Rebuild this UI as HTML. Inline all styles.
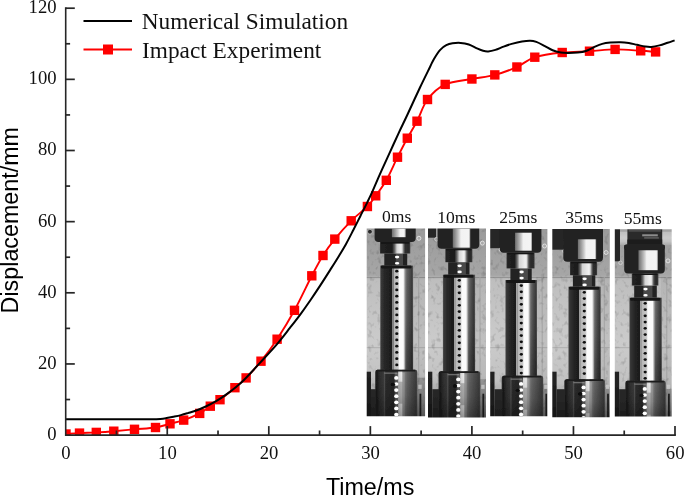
<!DOCTYPE html>
<html><head><meta charset="utf-8"><title>Displacement vs Time</title>
<style>html,body{margin:0;padding:0;background:#fff;}body{width:685px;height:496px;overflow:hidden;}svg{display:block;}text{font-family:"Liberation Serif",serif;fill:#111;}.sans{font-family:"Liberation Sans",sans-serif;fill:#000;}</style>
</head><body>
<svg width="685" height="496" viewBox="0 0 685 496">
<rect width="685" height="496" fill="#fff"/>
<defs>
<filter id="soft" x="-5%" y="-5%" width="110%" height="110%"><feGaussianBlur stdDeviation="0.65"/></filter>
<filter id="soft3" x="-5%" y="-5%" width="110%" height="110%"><feGaussianBlur stdDeviation="0.4"/></filter>
<linearGradient id="wall" x1="0" y1="0" x2="0" y2="1"><stop offset="0" stop-color="#9a9a9a"/><stop offset="0.255" stop-color="#a6a6a6"/><stop offset="0.28" stop-color="#bebebe"/><stop offset="0.6" stop-color="#cbcbcb"/><stop offset="0.8" stop-color="#c2c2c2"/><stop offset="1" stop-color="#a8a8a8"/></linearGradient>
<filter id="noise" x="0" y="0" width="100%" height="100%"><feTurbulence type="fractalNoise" baseFrequency="0.22 0.18" numOctaves="2" seed="7" result="t"/><feColorMatrix in="t" type="matrix" values="0 0 0 0 0  0 0 0 0 0  0 0 0 0 0  2.0 0 0 0 -1.08"/></filter>
<linearGradient id="rdark" x1="0" y1="0" x2="0" y2="1"><stop offset="0" stop-color="#000" stop-opacity="0"/><stop offset="0.5" stop-color="#000" stop-opacity="0.12"/><stop offset="1" stop-color="#000" stop-opacity="0.38"/></linearGradient>
<linearGradient id="bdark" x1="0" y1="0" x2="0" y2="1"><stop offset="0" stop-color="#000" stop-opacity="0"/><stop offset="0.45" stop-color="#000" stop-opacity="0.12"/><stop offset="1" stop-color="#000" stop-opacity="0.42"/></linearGradient>
<clipPath id="cp0"><rect x="366.7" y="228.5" width="58.4" height="187.8"/></clipPath>
<clipPath id="cp1"><rect x="428.0" y="228.6" width="58.0" height="188.9"/></clipPath>
<clipPath id="cp2"><rect x="490.2" y="228.9" width="57.2" height="187.3"/></clipPath>
<clipPath id="cp3"><rect x="552.3" y="228.9" width="57.5" height="188.4"/></clipPath>
<clipPath id="cp4"><rect x="614.8" y="229.2" width="56.9" height="187.2"/></clipPath>
<linearGradient id="m0" gradientUnits="userSpaceOnUse" x1="380.20" y1="0" x2="413.10" y2="0"><stop offset="0.0000" stop-color="#5a5a5a"/><stop offset="0.0304" stop-color="#383838"/><stop offset="0.1368" stop-color="#272727"/><stop offset="0.3283" stop-color="#1d1d1d"/><stop offset="0.3587" stop-color="#1d1d1d"/><stop offset="0.3799" stop-color="#a8a8a8"/><stop offset="0.4043" stop-color="#808080"/><stop offset="0.4255" stop-color="#b6b6b6"/><stop offset="0.5502" stop-color="#cacaca"/><stop offset="0.5836" stop-color="#fbfbfb"/><stop offset="0.7021" stop-color="#fbfbfb"/><stop offset="0.7416" stop-color="#b0b0b0"/><stop offset="0.7812" stop-color="#747474"/><stop offset="0.8237" stop-color="#5e5e5e"/><stop offset="0.9088" stop-color="#4a4a4a"/><stop offset="0.9696" stop-color="#3a3a3a"/><stop offset="1.0000" stop-color="#686868"/></linearGradient>
<linearGradient id="s0" gradientUnits="userSpaceOnUse" x1="380.00" y1="0" x2="410.30" y2="0"><stop offset="0.0000" stop-color="#3e3e3e"/><stop offset="0.0396" stop-color="#222"/><stop offset="0.4026" stop-color="#1c1c1c"/><stop offset="0.4851" stop-color="#6a6a6a"/><stop offset="0.5611" stop-color="#d4d4d4"/><stop offset="0.6832" stop-color="#f0f0f0"/><stop offset="0.7261" stop-color="#e0e0e0"/><stop offset="0.7921" stop-color="#5a5a5a"/><stop offset="0.8383" stop-color="#2e2e2e"/><stop offset="0.9604" stop-color="#2a2a2a"/><stop offset="1.0000" stop-color="#484848"/></linearGradient>
<linearGradient id="c0" gradientUnits="userSpaceOnUse" x1="391.30" y1="0" x2="406.20" y2="0"><stop offset="0.0000" stop-color="#202020"/><stop offset="0.0805" stop-color="#767676"/><stop offset="0.2550" stop-color="#9c9c9c"/><stop offset="0.4564" stop-color="#cccccc"/><stop offset="0.5906" stop-color="#f2f2f2"/><stop offset="0.8658" stop-color="#f4f4f4"/><stop offset="0.9329" stop-color="#b0b0b0"/><stop offset="1.0000" stop-color="#202020"/></linearGradient>
<linearGradient id="b0" gradientUnits="userSpaceOnUse" x1="375.20" y1="0" x2="417.30" y2="0"><stop offset="0.0000" stop-color="#2c2c2c"/><stop offset="0.0356" stop-color="#181818"/><stop offset="0.1069" stop-color="#2e2e2e"/><stop offset="0.1948" stop-color="#383838"/><stop offset="0.2185" stop-color="#505050"/><stop offset="0.2494" stop-color="#2c2c2c"/><stop offset="0.4299" stop-color="#262626"/><stop offset="0.5344" stop-color="#444"/><stop offset="0.5582" stop-color="#d2d2d2"/><stop offset="0.6247" stop-color="#e4e4e4"/><stop offset="0.6580" stop-color="#8c8c8c"/><stop offset="0.7625" stop-color="#626262"/><stop offset="0.8812" stop-color="#4a4a4a"/><stop offset="0.9715" stop-color="#3c3c3c"/><stop offset="1.0000" stop-color="#4c4c4c"/></linearGradient>
<linearGradient id="m1" gradientUnits="userSpaceOnUse" x1="442.90" y1="0" x2="475.10" y2="0"><stop offset="0.0000" stop-color="#5a5a5a"/><stop offset="0.0311" stop-color="#383838"/><stop offset="0.1398" stop-color="#272727"/><stop offset="0.3012" stop-color="#1d1d1d"/><stop offset="0.3323" stop-color="#1d1d1d"/><stop offset="0.3540" stop-color="#a8a8a8"/><stop offset="0.3789" stop-color="#808080"/><stop offset="0.4006" stop-color="#b6b6b6"/><stop offset="0.5559" stop-color="#cacaca"/><stop offset="0.5901" stop-color="#fbfbfb"/><stop offset="0.7205" stop-color="#fbfbfb"/><stop offset="0.7609" stop-color="#b0b0b0"/><stop offset="0.8012" stop-color="#747474"/><stop offset="0.8447" stop-color="#5e5e5e"/><stop offset="0.9068" stop-color="#4a4a4a"/><stop offset="0.9689" stop-color="#3a3a3a"/><stop offset="1.0000" stop-color="#686868"/></linearGradient>
<linearGradient id="s1" gradientUnits="userSpaceOnUse" x1="445.30" y1="0" x2="472.40" y2="0"><stop offset="0.0000" stop-color="#3e3e3e"/><stop offset="0.0443" stop-color="#222"/><stop offset="0.3395" stop-color="#1c1c1c"/><stop offset="0.4317" stop-color="#6a6a6a"/><stop offset="0.5166" stop-color="#d4d4d4"/><stop offset="0.6716" stop-color="#f0f0f0"/><stop offset="0.7196" stop-color="#e0e0e0"/><stop offset="0.7934" stop-color="#5a5a5a"/><stop offset="0.8450" stop-color="#2e2e2e"/><stop offset="0.9557" stop-color="#2a2a2a"/><stop offset="1.0000" stop-color="#484848"/></linearGradient>
<linearGradient id="c1" gradientUnits="userSpaceOnUse" x1="452.20" y1="0" x2="470.80" y2="0"><stop offset="0.0000" stop-color="#202020"/><stop offset="0.0645" stop-color="#767676"/><stop offset="0.2043" stop-color="#9c9c9c"/><stop offset="0.3656" stop-color="#cccccc"/><stop offset="0.4731" stop-color="#f2f2f2"/><stop offset="0.8925" stop-color="#f4f4f4"/><stop offset="0.9462" stop-color="#b0b0b0"/><stop offset="1.0000" stop-color="#202020"/></linearGradient>
<linearGradient id="b1" gradientUnits="userSpaceOnUse" x1="438.50" y1="0" x2="480.20" y2="0"><stop offset="0.0000" stop-color="#2c2c2c"/><stop offset="0.0360" stop-color="#181818"/><stop offset="0.1079" stop-color="#2e2e2e"/><stop offset="0.1966" stop-color="#383838"/><stop offset="0.2206" stop-color="#505050"/><stop offset="0.2518" stop-color="#2c2c2c"/><stop offset="0.4029" stop-color="#262626"/><stop offset="0.5084" stop-color="#444"/><stop offset="0.5324" stop-color="#d2d2d2"/><stop offset="0.5995" stop-color="#e4e4e4"/><stop offset="0.6331" stop-color="#8c8c8c"/><stop offset="0.7386" stop-color="#626262"/><stop offset="0.8801" stop-color="#4a4a4a"/><stop offset="0.9712" stop-color="#3c3c3c"/><stop offset="1.0000" stop-color="#4c4c4c"/></linearGradient>
<linearGradient id="m2" gradientUnits="userSpaceOnUse" x1="505.40" y1="0" x2="537.00" y2="0"><stop offset="0.0000" stop-color="#5a5a5a"/><stop offset="0.0316" stop-color="#383838"/><stop offset="0.1424" stop-color="#272727"/><stop offset="0.2943" stop-color="#1d1d1d"/><stop offset="0.3259" stop-color="#1d1d1d"/><stop offset="0.3481" stop-color="#a8a8a8"/><stop offset="0.3734" stop-color="#808080"/><stop offset="0.3956" stop-color="#b6b6b6"/><stop offset="0.5506" stop-color="#cacaca"/><stop offset="0.5854" stop-color="#fbfbfb"/><stop offset="0.7184" stop-color="#fbfbfb"/><stop offset="0.7595" stop-color="#b0b0b0"/><stop offset="0.8006" stop-color="#747474"/><stop offset="0.8449" stop-color="#5e5e5e"/><stop offset="0.9051" stop-color="#4a4a4a"/><stop offset="0.9684" stop-color="#3a3a3a"/><stop offset="1.0000" stop-color="#686868"/></linearGradient>
<linearGradient id="s2" gradientUnits="userSpaceOnUse" x1="506.50" y1="0" x2="534.60" y2="0"><stop offset="0.0000" stop-color="#3e3e3e"/><stop offset="0.0427" stop-color="#222"/><stop offset="0.2918" stop-color="#1c1c1c"/><stop offset="0.3808" stop-color="#6a6a6a"/><stop offset="0.4626" stop-color="#d4d4d4"/><stop offset="0.6690" stop-color="#f0f0f0"/><stop offset="0.7153" stop-color="#e0e0e0"/><stop offset="0.7865" stop-color="#5a5a5a"/><stop offset="0.8363" stop-color="#2e2e2e"/><stop offset="0.9573" stop-color="#2a2a2a"/><stop offset="1.0000" stop-color="#484848"/></linearGradient>
<linearGradient id="c2" gradientUnits="userSpaceOnUse" x1="514.40" y1="0" x2="532.50" y2="0"><stop offset="0.0000" stop-color="#202020"/><stop offset="0.0663" stop-color="#767676"/><stop offset="0.2099" stop-color="#9c9c9c"/><stop offset="0.3757" stop-color="#cccccc"/><stop offset="0.4862" stop-color="#f2f2f2"/><stop offset="0.8895" stop-color="#f4f4f4"/><stop offset="0.9448" stop-color="#b0b0b0"/><stop offset="1.0000" stop-color="#202020"/></linearGradient>
<linearGradient id="b2" gradientUnits="userSpaceOnUse" x1="501.70" y1="0" x2="543.20" y2="0"><stop offset="0.0000" stop-color="#2c2c2c"/><stop offset="0.0361" stop-color="#181818"/><stop offset="0.1084" stop-color="#2e2e2e"/><stop offset="0.1976" stop-color="#383838"/><stop offset="0.2217" stop-color="#505050"/><stop offset="0.2530" stop-color="#2c2c2c"/><stop offset="0.3952" stop-color="#262626"/><stop offset="0.5012" stop-color="#444"/><stop offset="0.5253" stop-color="#d2d2d2"/><stop offset="0.5928" stop-color="#e4e4e4"/><stop offset="0.6265" stop-color="#8c8c8c"/><stop offset="0.7325" stop-color="#626262"/><stop offset="0.8795" stop-color="#4a4a4a"/><stop offset="0.9711" stop-color="#3c3c3c"/><stop offset="1.0000" stop-color="#4c4c4c"/></linearGradient>
<linearGradient id="m3" gradientUnits="userSpaceOnUse" x1="568.40" y1="0" x2="600.80" y2="0"><stop offset="0.0000" stop-color="#5a5a5a"/><stop offset="0.0309" stop-color="#383838"/><stop offset="0.1389" stop-color="#272727"/><stop offset="0.2840" stop-color="#1d1d1d"/><stop offset="0.3148" stop-color="#1d1d1d"/><stop offset="0.3364" stop-color="#a8a8a8"/><stop offset="0.3611" stop-color="#808080"/><stop offset="0.3827" stop-color="#b6b6b6"/><stop offset="0.5370" stop-color="#cacaca"/><stop offset="0.5710" stop-color="#fbfbfb"/><stop offset="0.7315" stop-color="#fbfbfb"/><stop offset="0.7716" stop-color="#b0b0b0"/><stop offset="0.8117" stop-color="#747474"/><stop offset="0.8549" stop-color="#5e5e5e"/><stop offset="0.9074" stop-color="#4a4a4a"/><stop offset="0.9691" stop-color="#3a3a3a"/><stop offset="1.0000" stop-color="#686868"/></linearGradient>
<linearGradient id="s3" gradientUnits="userSpaceOnUse" x1="570.00" y1="0" x2="597.10" y2="0"><stop offset="0.0000" stop-color="#3e3e3e"/><stop offset="0.0443" stop-color="#222"/><stop offset="0.2841" stop-color="#1c1c1c"/><stop offset="0.3764" stop-color="#6a6a6a"/><stop offset="0.4613" stop-color="#d4d4d4"/><stop offset="0.6937" stop-color="#f0f0f0"/><stop offset="0.7417" stop-color="#e0e0e0"/><stop offset="0.8155" stop-color="#5a5a5a"/><stop offset="0.8672" stop-color="#2e2e2e"/><stop offset="0.9557" stop-color="#2a2a2a"/><stop offset="1.0000" stop-color="#484848"/></linearGradient>
<linearGradient id="c3" gradientUnits="userSpaceOnUse" x1="577.30" y1="0" x2="596.70" y2="0"><stop offset="0.0000" stop-color="#202020"/><stop offset="0.0619" stop-color="#767676"/><stop offset="0.1959" stop-color="#9c9c9c"/><stop offset="0.3505" stop-color="#cccccc"/><stop offset="0.4536" stop-color="#f2f2f2"/><stop offset="0.8969" stop-color="#f4f4f4"/><stop offset="0.9485" stop-color="#b0b0b0"/><stop offset="1.0000" stop-color="#202020"/></linearGradient>
<linearGradient id="b3" gradientUnits="userSpaceOnUse" x1="564.30" y1="0" x2="604.90" y2="0"><stop offset="0.0000" stop-color="#2c2c2c"/><stop offset="0.0369" stop-color="#181818"/><stop offset="0.1108" stop-color="#2e2e2e"/><stop offset="0.2020" stop-color="#383838"/><stop offset="0.2266" stop-color="#505050"/><stop offset="0.2586" stop-color="#2c2c2c"/><stop offset="0.4015" stop-color="#262626"/><stop offset="0.5099" stop-color="#444"/><stop offset="0.5345" stop-color="#d2d2d2"/><stop offset="0.6034" stop-color="#e4e4e4"/><stop offset="0.6379" stop-color="#8c8c8c"/><stop offset="0.7463" stop-color="#626262"/><stop offset="0.8768" stop-color="#4a4a4a"/><stop offset="0.9704" stop-color="#3c3c3c"/><stop offset="1.0000" stop-color="#4c4c4c"/></linearGradient>
<linearGradient id="m4" gradientUnits="userSpaceOnUse" x1="629.40" y1="0" x2="661.80" y2="0"><stop offset="0.0000" stop-color="#5a5a5a"/><stop offset="0.0309" stop-color="#383838"/><stop offset="0.1389" stop-color="#272727"/><stop offset="0.2840" stop-color="#1d1d1d"/><stop offset="0.3148" stop-color="#1d1d1d"/><stop offset="0.3364" stop-color="#a8a8a8"/><stop offset="0.3611" stop-color="#808080"/><stop offset="0.3827" stop-color="#b6b6b6"/><stop offset="0.5340" stop-color="#cacaca"/><stop offset="0.5679" stop-color="#fbfbfb"/><stop offset="0.7160" stop-color="#fbfbfb"/><stop offset="0.7562" stop-color="#b0b0b0"/><stop offset="0.7963" stop-color="#747474"/><stop offset="0.8395" stop-color="#5e5e5e"/><stop offset="0.9074" stop-color="#4a4a4a"/><stop offset="0.9691" stop-color="#3a3a3a"/><stop offset="1.0000" stop-color="#686868"/></linearGradient>
<linearGradient id="s4" gradientUnits="userSpaceOnUse" x1="631.80" y1="0" x2="658.40" y2="0"><stop offset="0.0000" stop-color="#3e3e3e"/><stop offset="0.0451" stop-color="#222"/><stop offset="0.3195" stop-color="#1c1c1c"/><stop offset="0.4135" stop-color="#6a6a6a"/><stop offset="0.5000" stop-color="#d4d4d4"/><stop offset="0.6955" stop-color="#f0f0f0"/><stop offset="0.7444" stop-color="#e0e0e0"/><stop offset="0.8195" stop-color="#5a5a5a"/><stop offset="0.8722" stop-color="#2e2e2e"/><stop offset="0.9549" stop-color="#2a2a2a"/><stop offset="1.0000" stop-color="#484848"/></linearGradient>
<linearGradient id="c4" gradientUnits="userSpaceOnUse" x1="637.90" y1="0" x2="658.40" y2="0"><stop offset="0.0000" stop-color="#202020"/><stop offset="0.0585" stop-color="#767676"/><stop offset="0.1854" stop-color="#9c9c9c"/><stop offset="0.3317" stop-color="#cccccc"/><stop offset="0.4293" stop-color="#f2f2f2"/><stop offset="0.9024" stop-color="#f4f4f4"/><stop offset="0.9512" stop-color="#b0b0b0"/><stop offset="1.0000" stop-color="#202020"/></linearGradient>
<linearGradient id="b4" gradientUnits="userSpaceOnUse" x1="625.30" y1="0" x2="665.80" y2="0"><stop offset="0.0000" stop-color="#2c2c2c"/><stop offset="0.0370" stop-color="#181818"/><stop offset="0.1111" stop-color="#2e2e2e"/><stop offset="0.2025" stop-color="#383838"/><stop offset="0.2272" stop-color="#505050"/><stop offset="0.2593" stop-color="#2c2c2c"/><stop offset="0.4074" stop-color="#262626"/><stop offset="0.5160" stop-color="#444"/><stop offset="0.5407" stop-color="#d2d2d2"/><stop offset="0.6099" stop-color="#e4e4e4"/><stop offset="0.6444" stop-color="#8c8c8c"/><stop offset="0.7531" stop-color="#626262"/><stop offset="0.8765" stop-color="#4a4a4a"/><stop offset="0.9704" stop-color="#3c3c3c"/><stop offset="1.0000" stop-color="#4c4c4c"/></linearGradient>
</defs>
<clipPath id="plot"><rect x="65.7" y="8.2" width="610.3" height="426.9"/></clipPath>
<g id="red" clip-path="url(#plot)">
<path fill="none" stroke="#ff0000" stroke-width="1.9" stroke-linejoin="round" d="M66.00 434.00 C68.25 433.85 74.45 433.37 79.50 433.10 C84.55 432.83 90.58 432.72 96.30 432.40 C102.02 432.08 107.43 431.72 113.80 431.20 C120.17 430.68 127.55 429.92 134.50 429.30 C141.45 428.68 149.58 428.42 155.50 427.50 C161.42 426.58 165.30 425.03 170.00 423.80 C174.70 422.57 178.75 421.83 183.70 420.10 C188.65 418.37 195.27 415.72 199.70 413.40 C204.13 411.08 206.92 408.48 210.30 406.20 C213.68 403.92 215.90 402.78 220.00 399.70 C224.10 396.62 230.55 391.33 234.90 387.70 C239.25 384.07 241.75 382.32 246.10 377.90 C250.45 373.48 255.83 367.65 261.00 361.20 C266.17 354.75 271.52 347.68 277.10 339.20 C282.68 330.72 288.72 320.87 294.50 310.30 C300.28 299.73 307.05 284.93 311.80 275.80 C316.55 266.67 319.17 261.62 323.00 255.50 C326.83 249.38 330.10 244.88 334.80 239.10 C339.50 233.32 345.77 226.23 351.20 220.80 C356.63 215.37 363.32 210.67 367.40 206.50 C371.48 202.33 372.55 200.17 375.70 195.80 C378.85 191.43 382.67 186.73 386.30 180.30 C389.93 173.87 394.00 164.22 397.50 157.20 C401.00 150.18 404.05 144.20 407.30 138.20 C410.55 132.20 413.63 127.65 417.00 121.20 C420.37 114.75 422.80 105.63 427.50 99.50 C432.20 93.37 437.80 87.82 445.20 84.40 C452.60 80.98 463.63 80.58 471.90 79.00 C480.17 77.42 487.30 76.90 494.80 74.90 C502.30 72.90 510.23 69.95 516.90 67.00 C523.57 64.05 527.25 59.62 534.80 57.20 C542.35 54.78 553.08 53.50 562.20 52.50 C571.32 51.50 580.68 51.72 589.50 51.20 C598.32 50.68 606.57 49.47 615.10 49.40 C623.63 49.33 633.95 50.38 640.70 50.80 C647.45 51.22 653.12 51.72 655.60 51.90"/>
<rect x="61.3" y="429.3" width="9.4" height="9.4" fill="#ff0000"/>
<rect x="74.8" y="428.4" width="9.4" height="9.4" fill="#ff0000"/>
<rect x="91.6" y="427.7" width="9.4" height="9.4" fill="#ff0000"/>
<rect x="109.1" y="426.5" width="9.4" height="9.4" fill="#ff0000"/>
<rect x="129.8" y="424.6" width="9.4" height="9.4" fill="#ff0000"/>
<rect x="150.8" y="422.8" width="9.4" height="9.4" fill="#ff0000"/>
<rect x="165.3" y="419.1" width="9.4" height="9.4" fill="#ff0000"/>
<rect x="179.0" y="415.4" width="9.4" height="9.4" fill="#ff0000"/>
<rect x="195.0" y="408.7" width="9.4" height="9.4" fill="#ff0000"/>
<rect x="205.6" y="401.5" width="9.4" height="9.4" fill="#ff0000"/>
<rect x="215.3" y="395.0" width="9.4" height="9.4" fill="#ff0000"/>
<rect x="230.2" y="383.0" width="9.4" height="9.4" fill="#ff0000"/>
<rect x="241.4" y="373.2" width="9.4" height="9.4" fill="#ff0000"/>
<rect x="256.3" y="356.5" width="9.4" height="9.4" fill="#ff0000"/>
<rect x="272.4" y="334.5" width="9.4" height="9.4" fill="#ff0000"/>
<rect x="289.8" y="305.6" width="9.4" height="9.4" fill="#ff0000"/>
<rect x="307.1" y="271.1" width="9.4" height="9.4" fill="#ff0000"/>
<rect x="318.3" y="250.8" width="9.4" height="9.4" fill="#ff0000"/>
<rect x="330.1" y="234.4" width="9.4" height="9.4" fill="#ff0000"/>
<rect x="346.5" y="216.1" width="9.4" height="9.4" fill="#ff0000"/>
<rect x="362.7" y="201.8" width="9.4" height="9.4" fill="#ff0000"/>
<rect x="371.0" y="191.1" width="9.4" height="9.4" fill="#ff0000"/>
<rect x="381.6" y="175.6" width="9.4" height="9.4" fill="#ff0000"/>
<rect x="392.8" y="152.5" width="9.4" height="9.4" fill="#ff0000"/>
<rect x="402.6" y="133.5" width="9.4" height="9.4" fill="#ff0000"/>
<rect x="412.3" y="116.5" width="9.4" height="9.4" fill="#ff0000"/>
<rect x="422.8" y="94.8" width="9.4" height="9.4" fill="#ff0000"/>
<rect x="440.5" y="79.7" width="9.4" height="9.4" fill="#ff0000"/>
<rect x="467.2" y="74.3" width="9.4" height="9.4" fill="#ff0000"/>
<rect x="490.1" y="70.2" width="9.4" height="9.4" fill="#ff0000"/>
<rect x="512.2" y="62.3" width="9.4" height="9.4" fill="#ff0000"/>
<rect x="530.1" y="52.5" width="9.4" height="9.4" fill="#ff0000"/>
<rect x="557.5" y="47.8" width="9.4" height="9.4" fill="#ff0000"/>
<rect x="584.8" y="46.5" width="9.4" height="9.4" fill="#ff0000"/>
<rect x="610.4" y="44.7" width="9.4" height="9.4" fill="#ff0000"/>
<rect x="636.0" y="46.1" width="9.4" height="9.4" fill="#ff0000"/>
<rect x="650.9" y="47.2" width="9.4" height="9.4" fill="#ff0000"/>
</g>
<path id="black" fill="none" stroke="#000" stroke-width="2" stroke-linecap="butt" stroke-linejoin="round" d="M65.00 419.20 C70.83 419.20 87.50 419.18 100.00 419.20 C112.50 419.22 131.67 419.29 140.00 419.30 C148.33 419.31 146.60 419.32 150.00 419.25 C153.40 419.18 157.63 419.09 160.40 418.90 C163.17 418.71 164.38 418.47 166.60 418.10 C168.82 417.73 171.32 417.20 173.70 416.70 C176.08 416.20 178.52 415.70 180.90 415.10 C183.28 414.50 185.55 413.82 188.00 413.10 C190.45 412.38 192.63 411.90 195.60 410.80 C198.57 409.70 202.38 408.10 205.80 406.50 C209.22 404.90 212.67 403.22 216.10 401.20 C219.53 399.18 222.97 396.87 226.40 394.40 C229.83 391.93 233.78 388.80 236.70 386.40 C239.62 384.00 239.98 383.97 243.90 380.00 C247.82 376.03 254.57 368.72 260.20 362.60 C265.83 356.48 272.72 349.12 277.70 343.30 C282.68 337.48 286.35 332.48 290.10 327.70 C293.85 322.92 296.85 319.13 300.20 314.60 C303.55 310.07 306.85 305.37 310.20 300.50 C313.55 295.63 316.93 290.55 320.30 285.40 C323.67 280.25 327.27 274.55 330.40 269.60 C333.53 264.65 336.47 260.02 339.10 255.70 C341.73 251.38 343.85 247.93 346.20 243.70 C348.55 239.47 350.85 234.88 353.20 230.30 C355.55 225.72 357.93 220.90 360.30 216.20 C362.67 211.50 365.32 206.37 367.40 202.10 C369.48 197.83 370.47 195.80 372.80 190.60 C375.13 185.40 378.50 177.40 381.40 170.90 C384.30 164.40 387.27 158.03 390.20 151.60 C393.13 145.17 396.12 138.48 399.00 132.30 C401.88 126.12 404.00 121.97 407.50 114.50 C411.00 107.03 416.25 95.42 420.00 87.50 C423.75 79.58 427.65 71.80 430.00 67.00 C432.35 62.20 432.40 61.57 434.10 58.70 C435.80 55.83 438.17 52.05 440.20 49.80 C442.23 47.55 444.25 46.28 446.30 45.20 C448.35 44.12 450.10 43.68 452.50 43.30 C454.90 42.92 457.98 42.70 460.70 42.90 C463.42 43.10 466.08 43.58 468.80 44.50 C471.52 45.42 474.62 47.35 477.00 48.40 C479.38 49.45 481.23 50.30 483.10 50.80 C484.97 51.30 486.15 51.55 488.20 51.40 C490.25 51.25 492.83 50.70 495.40 49.90 C497.97 49.10 500.88 47.60 503.60 46.60 C506.32 45.60 508.63 44.75 511.70 43.90 C514.77 43.05 518.93 42.03 522.00 41.50 C525.07 40.97 527.72 40.63 530.10 40.70 C532.48 40.77 533.92 41.05 536.30 41.90 C538.68 42.75 541.68 44.40 544.40 45.80 C547.12 47.20 549.87 49.18 552.60 50.30 C555.33 51.42 558.32 52.05 560.80 52.50 C563.28 52.95 564.68 52.98 567.50 53.00 C570.32 53.02 574.63 52.93 577.70 52.60 C580.77 52.27 583.18 51.92 585.90 51.00 C588.62 50.08 591.28 48.28 594.00 47.10 C596.72 45.92 599.47 44.65 602.20 43.90 C604.93 43.15 607.33 42.88 610.40 42.60 C613.47 42.32 617.53 42.13 620.60 42.20 C623.67 42.27 626.07 42.57 628.80 43.00 C631.53 43.43 634.28 44.22 637.00 44.80 C639.72 45.38 642.72 46.15 645.10 46.50 C647.48 46.85 648.90 47.08 651.30 46.90 C653.70 46.72 656.78 46.08 659.50 45.40 C662.22 44.72 665.08 43.63 667.60 42.80 C670.12 41.97 673.43 40.80 674.60 40.40"/>
<g clip-path="url(#cp0)">
<g filter="url(#soft)">
<rect x="363.70" y="225.70" width="64.40" height="193.60" fill="url(#wall)"/>
<path d="M364.7 277.5 h62.4" stroke="#949494" stroke-width="1.1"/>
<path d="M364.7 347.7 h62.4" stroke="#aeaeae" stroke-width="1"/>
<path d="M418.7 276.7 v187.6" stroke="#acacac" stroke-width="1"/>
<rect x="366.70" y="228.70" width="58.40" height="187.60" fill="#000" filter="url(#noise)" opacity="0.26"/>
<rect x="412.70" y="276.70" width="14.40" height="187.60" fill="#000" opacity="0.05"/>
<circle cx="369.9" cy="231.7" r="2.4" fill="#2a2a2a" stroke="#ccc" stroke-width="0.7"/>
<circle cx="418.9" cy="238.3" r="2.0" fill="#aaa" stroke="#e4e4e4" stroke-width="0.9"/>
<rect x="364.70" y="371.70" width="6.30" height="49.60" fill="#202020"/>
<rect x="371.00" y="389.20" width="5.20" height="32.10" fill="#2a2a2a"/>
<rect x="416.80" y="377.70" width="9.80" height="46.60" fill="#000" opacity="0.18"/>
<rect x="419.50" y="393.70" width="1.80" height="25.60" fill="#222"/>
<rect x="418.30" y="384.70" width="3.40" height="4.20" fill="#c8c8c8"/>
<rect x="380.20" y="265.60" width="32.90" height="107.10" fill="url(#m0)"/>
<rect x="405.30" y="265.60" width="7.80" height="107.10" fill="url(#rdark)"/>
<rect x="381.00" y="265.60" width="30.50" height="3.00" fill="#161616" rx="1"/>
<rect x="384.30" y="253.50" width="22.90" height="12.10" fill="#202020"/>
<rect x="395.70" y="253.50" width="7.40" height="12.10" fill="#4a4a4a"/>
<ellipse cx="397.10" cy="257.10" rx="2.2" ry="1.4" fill="#fff"/>
<ellipse cx="397.10" cy="263.20" rx="2.2" ry="1.3" fill="#fff"/>
<rect x="380.00" y="242.00" width="30.30" height="11.50" fill="url(#s0)"/>
<rect x="381.00" y="242.00" width="28.30" height="1.60" fill="#141414"/>
<rect x="374.60" y="223.70" width="41.10" height="18.30" fill="#202020" rx="4"/>
<rect x="391.30" y="228.70" width="14.90" height="8.50" fill="url(#c0)"/>
<rect x="375.20" y="369.70" width="42.10" height="54.60" fill="url(#b0)" rx="2.2"/>
<rect x="377.20" y="369.70" width="38.10" height="1.80" fill="#1c1c1c"/>
<rect x="384.20" y="372.50" width="13.10" height="1.30" fill="#8a8a8a" opacity="0.7"/>
<rect x="394.80" y="372.70" width="10.00" height="46.60" fill="#fff" opacity="0.16"/>
<rect x="398.30" y="381.70" width="4.40" height="22.00" fill="#777" opacity="0.45"/>
<rect x="364.70" y="373.70" width="62.40" height="48.60" fill="url(#bdark)"/>
</g>
<g filter="url(#soft3)">
<ellipse cx="396.80" cy="271.20" rx="1.6" ry="1.4" fill="#0c0c0c"/>
<ellipse cx="396.80" cy="277.45" rx="1.6" ry="1.4" fill="#0c0c0c"/>
<ellipse cx="396.80" cy="283.70" rx="1.6" ry="1.4" fill="#0c0c0c"/>
<ellipse cx="396.80" cy="289.95" rx="1.6" ry="1.4" fill="#0c0c0c"/>
<ellipse cx="396.80" cy="296.20" rx="1.6" ry="1.4" fill="#0c0c0c"/>
<ellipse cx="396.80" cy="302.45" rx="1.6" ry="1.4" fill="#0c0c0c"/>
<ellipse cx="396.80" cy="308.70" rx="1.6" ry="1.4" fill="#0c0c0c"/>
<ellipse cx="396.80" cy="314.95" rx="1.6" ry="1.4" fill="#0c0c0c"/>
<ellipse cx="396.80" cy="321.20" rx="1.6" ry="1.4" fill="#0c0c0c"/>
<ellipse cx="396.80" cy="327.45" rx="1.6" ry="1.4" fill="#0c0c0c"/>
<ellipse cx="396.80" cy="333.70" rx="1.6" ry="1.4" fill="#0c0c0c"/>
<ellipse cx="396.80" cy="339.95" rx="1.6" ry="1.4" fill="#0c0c0c"/>
<ellipse cx="396.80" cy="346.20" rx="1.6" ry="1.4" fill="#0c0c0c"/>
<ellipse cx="396.80" cy="352.45" rx="1.6" ry="1.4" fill="#0c0c0c"/>
<ellipse cx="396.80" cy="358.70" rx="1.6" ry="1.4" fill="#0c0c0c"/>
<ellipse cx="396.80" cy="364.95" rx="1.6" ry="1.4" fill="#0c0c0c"/>
<ellipse cx="396.30" cy="377.90" rx="2.15" ry="1.85" fill="#ffffff"/>
<ellipse cx="396.30" cy="384.00" rx="2.15" ry="1.85" fill="#ffffff"/>
<ellipse cx="393.00" cy="384.40" rx="2.2" ry="1.6" fill="#0a0a0a"/>
<ellipse cx="396.30" cy="390.10" rx="2.15" ry="1.85" fill="#ffffff"/>
<ellipse cx="396.30" cy="396.20" rx="2.15" ry="1.85" fill="#ffffff"/>
<ellipse cx="396.30" cy="402.30" rx="2.15" ry="1.85" fill="#ffffff"/>
<ellipse cx="396.30" cy="408.40" rx="2.15" ry="1.85" fill="#ffffff"/>
<ellipse cx="396.30" cy="414.50" rx="2.15" ry="1.85" fill="#ffffff"/>
</g>
</g>
<g clip-path="url(#cp1)">
<g filter="url(#soft)">
<rect x="425.00" y="225.70" width="64.00" height="193.60" fill="url(#wall)"/>
<path d="M426.0 277.5 h62.0" stroke="#949494" stroke-width="1.1"/>
<path d="M426.0 347.7 h62.0" stroke="#aeaeae" stroke-width="1"/>
<path d="M480.0 276.7 v187.6" stroke="#acacac" stroke-width="1"/>
<rect x="428.00" y="228.70" width="58.00" height="187.60" fill="#000" filter="url(#noise)" opacity="0.26"/>
<rect x="474.00" y="276.70" width="14.00" height="187.60" fill="#000" opacity="0.05"/>
<rect x="426.00" y="226.70" width="10.00" height="11.00" fill="#262626"/>
<circle cx="436.5" cy="239.2" r="1.8" fill="none" stroke="#d0d0d0" stroke-width="0.9"/>
<circle cx="482.4" cy="243.1" r="2.0" fill="#aaa" stroke="#e4e4e4" stroke-width="0.9"/>
<rect x="426.00" y="371.70" width="6.30" height="49.60" fill="#202020"/>
<rect x="432.30" y="389.20" width="7.20" height="32.10" fill="#2a2a2a"/>
<rect x="479.70" y="379.20" width="7.80" height="45.10" fill="#000" opacity="0.18"/>
<rect x="482.40" y="393.70" width="1.80" height="25.60" fill="#222"/>
<rect x="481.20" y="384.70" width="3.40" height="4.20" fill="#c8c8c8"/>
<rect x="442.90" y="274.70" width="32.20" height="99.50" fill="url(#m1)"/>
<rect x="468.10" y="274.70" width="7.00" height="99.50" fill="url(#rdark)"/>
<rect x="443.70" y="274.70" width="29.80" height="3.00" fill="#161616" rx="1"/>
<rect x="448.20" y="262.20" width="21.30" height="12.50" fill="#202020"/>
<rect x="457.30" y="262.20" width="8.60" height="12.50" fill="#4a4a4a"/>
<ellipse cx="459.60" cy="265.80" rx="2.2" ry="1.4" fill="#fff"/>
<ellipse cx="459.60" cy="271.90" rx="2.2" ry="1.3" fill="#fff"/>
<rect x="445.30" y="248.70" width="27.10" height="13.50" fill="url(#s1)"/>
<rect x="446.30" y="248.70" width="25.10" height="1.60" fill="#141414"/>
<rect x="437.60" y="223.70" width="41.60" height="25.00" fill="#202020" rx="4"/>
<rect x="452.20" y="228.70" width="18.60" height="19.00" fill="url(#c1)"/>
<rect x="438.50" y="371.20" width="41.70" height="53.10" fill="url(#b1)" rx="2.2"/>
<rect x="440.50" y="371.20" width="37.70" height="1.80" fill="#1c1c1c"/>
<rect x="447.50" y="374.00" width="11.80" height="1.30" fill="#8a8a8a" opacity="0.7"/>
<rect x="456.80" y="374.20" width="10.00" height="45.10" fill="#fff" opacity="0.16"/>
<rect x="460.30" y="383.20" width="4.40" height="22.00" fill="#777" opacity="0.45"/>
<rect x="426.00" y="375.20" width="62.00" height="47.10" fill="url(#bdark)"/>
</g>
<g filter="url(#soft3)">
<ellipse cx="459.30" cy="280.30" rx="1.6" ry="1.4" fill="#0c0c0c"/>
<ellipse cx="459.30" cy="286.55" rx="1.6" ry="1.4" fill="#0c0c0c"/>
<ellipse cx="459.30" cy="292.80" rx="1.6" ry="1.4" fill="#0c0c0c"/>
<ellipse cx="459.30" cy="299.05" rx="1.6" ry="1.4" fill="#0c0c0c"/>
<ellipse cx="459.30" cy="305.30" rx="1.6" ry="1.4" fill="#0c0c0c"/>
<ellipse cx="459.30" cy="311.55" rx="1.6" ry="1.4" fill="#0c0c0c"/>
<ellipse cx="459.30" cy="317.80" rx="1.6" ry="1.4" fill="#0c0c0c"/>
<ellipse cx="459.30" cy="324.05" rx="1.6" ry="1.4" fill="#0c0c0c"/>
<ellipse cx="459.30" cy="330.30" rx="1.6" ry="1.4" fill="#0c0c0c"/>
<ellipse cx="459.30" cy="336.55" rx="1.6" ry="1.4" fill="#0c0c0c"/>
<ellipse cx="459.30" cy="342.80" rx="1.6" ry="1.4" fill="#0c0c0c"/>
<ellipse cx="459.30" cy="349.05" rx="1.6" ry="1.4" fill="#0c0c0c"/>
<ellipse cx="459.30" cy="355.30" rx="1.6" ry="1.4" fill="#0c0c0c"/>
<ellipse cx="459.30" cy="361.55" rx="1.6" ry="1.4" fill="#0c0c0c"/>
<ellipse cx="459.30" cy="367.80" rx="1.6" ry="1.4" fill="#0c0c0c"/>
<ellipse cx="458.30" cy="379.40" rx="2.15" ry="1.85" fill="#ffffff"/>
<ellipse cx="458.30" cy="385.50" rx="2.15" ry="1.85" fill="#ffffff"/>
<ellipse cx="455.00" cy="385.90" rx="2.2" ry="1.6" fill="#0a0a0a"/>
<ellipse cx="458.30" cy="391.60" rx="2.15" ry="1.85" fill="#ffffff"/>
<ellipse cx="458.30" cy="397.70" rx="2.15" ry="1.85" fill="#ffffff"/>
<ellipse cx="458.30" cy="403.80" rx="2.15" ry="1.85" fill="#ffffff"/>
<ellipse cx="458.30" cy="409.90" rx="2.15" ry="1.85" fill="#ffffff"/>
<ellipse cx="458.30" cy="416.00" rx="2.15" ry="1.85" fill="#ffffff"/>
</g>
</g>
<g clip-path="url(#cp2)">
<g filter="url(#soft)">
<rect x="487.20" y="225.70" width="63.20" height="193.60" fill="url(#wall)"/>
<path d="M488.2 277.5 h61.2" stroke="#949494" stroke-width="1.1"/>
<path d="M488.2 347.7 h61.2" stroke="#aeaeae" stroke-width="1"/>
<path d="M542.2 276.7 v187.6" stroke="#acacac" stroke-width="1"/>
<rect x="490.20" y="228.70" width="57.20" height="187.60" fill="#000" filter="url(#noise)" opacity="0.26"/>
<rect x="536.20" y="276.70" width="13.20" height="187.60" fill="#000" opacity="0.05"/>
<rect x="488.20" y="226.70" width="12.20" height="21.50" fill="#262626"/>
<circle cx="500.9" cy="249.7" r="1.8" fill="none" stroke="#d0d0d0" stroke-width="0.9"/>
<circle cx="544.6" cy="246.0" r="2.0" fill="#aaa" stroke="#e4e4e4" stroke-width="0.9"/>
<rect x="488.20" y="371.70" width="6.30" height="49.60" fill="#202020"/>
<rect x="494.50" y="389.20" width="8.20" height="32.10" fill="#2a2a2a"/>
<rect x="542.70" y="383.70" width="6.20" height="40.60" fill="#000" opacity="0.18"/>
<rect x="545.40" y="393.70" width="1.80" height="25.60" fill="#222"/>
<rect x="544.20" y="384.70" width="3.40" height="4.20" fill="#c8c8c8"/>
<rect x="505.40" y="280.00" width="31.60" height="98.70" fill="url(#m2)"/>
<rect x="530.10" y="280.00" width="6.90" height="98.70" fill="url(#rdark)"/>
<rect x="506.20" y="280.00" width="29.20" height="3.00" fill="#161616" rx="1"/>
<rect x="510.40" y="268.40" width="21.30" height="11.60" fill="#202020"/>
<rect x="519.40" y="268.40" width="8.50" height="11.60" fill="#4a4a4a"/>
<ellipse cx="521.60" cy="272.00" rx="2.2" ry="1.4" fill="#fff"/>
<ellipse cx="521.60" cy="278.10" rx="2.2" ry="1.3" fill="#fff"/>
<rect x="506.50" y="252.70" width="28.10" height="15.70" fill="url(#s2)"/>
<rect x="507.50" y="252.70" width="26.10" height="1.60" fill="#141414"/>
<rect x="499.80" y="223.70" width="41.60" height="29.00" fill="#202020" rx="4"/>
<rect x="514.40" y="232.70" width="18.10" height="18.00" fill="url(#c2)"/>
<rect x="501.70" y="375.70" width="41.50" height="48.60" fill="url(#b2)" rx="2.2"/>
<rect x="503.70" y="375.70" width="37.50" height="1.80" fill="#1c1c1c"/>
<rect x="510.70" y="378.50" width="11.40" height="1.30" fill="#8a8a8a" opacity="0.7"/>
<rect x="519.60" y="378.70" width="10.00" height="40.60" fill="#fff" opacity="0.16"/>
<rect x="523.10" y="387.70" width="4.40" height="22.00" fill="#777" opacity="0.45"/>
<rect x="488.20" y="379.70" width="61.20" height="42.60" fill="url(#bdark)"/>
</g>
<g filter="url(#soft3)">
<ellipse cx="521.30" cy="285.60" rx="1.6" ry="1.4" fill="#0c0c0c"/>
<ellipse cx="521.30" cy="291.85" rx="1.6" ry="1.4" fill="#0c0c0c"/>
<ellipse cx="521.30" cy="298.10" rx="1.6" ry="1.4" fill="#0c0c0c"/>
<ellipse cx="521.30" cy="304.35" rx="1.6" ry="1.4" fill="#0c0c0c"/>
<ellipse cx="521.30" cy="310.60" rx="1.6" ry="1.4" fill="#0c0c0c"/>
<ellipse cx="521.30" cy="316.85" rx="1.6" ry="1.4" fill="#0c0c0c"/>
<ellipse cx="521.30" cy="323.10" rx="1.6" ry="1.4" fill="#0c0c0c"/>
<ellipse cx="521.30" cy="329.35" rx="1.6" ry="1.4" fill="#0c0c0c"/>
<ellipse cx="521.30" cy="335.60" rx="1.6" ry="1.4" fill="#0c0c0c"/>
<ellipse cx="521.30" cy="341.85" rx="1.6" ry="1.4" fill="#0c0c0c"/>
<ellipse cx="521.30" cy="348.10" rx="1.6" ry="1.4" fill="#0c0c0c"/>
<ellipse cx="521.30" cy="354.35" rx="1.6" ry="1.4" fill="#0c0c0c"/>
<ellipse cx="521.30" cy="360.60" rx="1.6" ry="1.4" fill="#0c0c0c"/>
<ellipse cx="521.30" cy="366.85" rx="1.6" ry="1.4" fill="#0c0c0c"/>
<ellipse cx="521.30" cy="373.10" rx="1.6" ry="1.4" fill="#0c0c0c"/>
<ellipse cx="521.10" cy="383.90" rx="2.15" ry="1.85" fill="#ffffff"/>
<ellipse cx="521.10" cy="390.00" rx="2.15" ry="1.85" fill="#ffffff"/>
<ellipse cx="517.80" cy="390.40" rx="2.2" ry="1.6" fill="#0a0a0a"/>
<ellipse cx="521.10" cy="396.10" rx="2.15" ry="1.85" fill="#ffffff"/>
<ellipse cx="521.10" cy="402.20" rx="2.15" ry="1.85" fill="#ffffff"/>
<ellipse cx="521.10" cy="408.30" rx="2.15" ry="1.85" fill="#ffffff"/>
<ellipse cx="521.10" cy="414.40" rx="2.15" ry="1.85" fill="#ffffff"/>
</g>
</g>
<g clip-path="url(#cp3)">
<g filter="url(#soft)">
<rect x="549.30" y="225.70" width="63.50" height="193.60" fill="url(#wall)"/>
<path d="M550.3 277.5 h61.5" stroke="#949494" stroke-width="1.1"/>
<path d="M550.3 347.7 h61.5" stroke="#aeaeae" stroke-width="1"/>
<path d="M604.3 276.7 v187.6" stroke="#acacac" stroke-width="1"/>
<rect x="552.30" y="228.70" width="57.50" height="187.60" fill="#000" filter="url(#noise)" opacity="0.26"/>
<rect x="598.30" y="276.70" width="13.50" height="187.60" fill="#000" opacity="0.05"/>
<rect x="550.30" y="226.70" width="13.60" height="23.00" fill="#262626"/>
<circle cx="564.4" cy="251.2" r="1.8" fill="none" stroke="#d0d0d0" stroke-width="0.9"/>
<circle cx="606.2" cy="252.5" r="2.0" fill="#aaa" stroke="#e4e4e4" stroke-width="0.9"/>
<rect x="550.30" y="371.70" width="6.30" height="49.60" fill="#202020"/>
<rect x="556.60" y="389.20" width="8.70" height="32.10" fill="#2a2a2a"/>
<rect x="604.40" y="387.20" width="6.90" height="37.10" fill="#000" opacity="0.18"/>
<rect x="607.10" y="393.70" width="1.80" height="25.60" fill="#222"/>
<rect x="605.90" y="384.70" width="3.40" height="4.20" fill="#c8c8c8"/>
<rect x="568.40" y="286.70" width="32.40" height="95.50" fill="url(#m3)"/>
<rect x="594.10" y="286.70" width="6.70" height="95.50" fill="url(#rdark)"/>
<rect x="569.20" y="286.70" width="30.00" height="3.00" fill="#161616" rx="1"/>
<rect x="572.90" y="275.20" width="22.40" height="11.50" fill="#202020"/>
<rect x="582.30" y="275.20" width="9.60" height="11.50" fill="#4a4a4a"/>
<ellipse cx="584.60" cy="278.80" rx="2.2" ry="1.4" fill="#fff"/>
<ellipse cx="584.60" cy="284.90" rx="2.2" ry="1.3" fill="#fff"/>
<rect x="570.00" y="261.70" width="27.10" height="13.50" fill="url(#s3)"/>
<rect x="571.00" y="261.70" width="25.10" height="1.60" fill="#141414"/>
<rect x="563.30" y="223.70" width="39.70" height="38.00" fill="#202020" rx="4"/>
<rect x="577.30" y="239.30" width="19.40" height="19.70" fill="url(#c3)"/>
<rect x="564.30" y="379.20" width="40.60" height="45.10" fill="url(#b3)" rx="2.2"/>
<rect x="566.30" y="379.20" width="36.60" height="1.80" fill="#1c1c1c"/>
<rect x="573.30" y="382.00" width="11.30" height="1.30" fill="#8a8a8a" opacity="0.7"/>
<rect x="582.10" y="382.20" width="10.00" height="37.10" fill="#fff" opacity="0.16"/>
<rect x="585.60" y="391.20" width="4.40" height="22.00" fill="#777" opacity="0.45"/>
<rect x="550.30" y="383.20" width="61.50" height="39.10" fill="url(#bdark)"/>
</g>
<g filter="url(#soft3)">
<ellipse cx="584.30" cy="292.30" rx="1.6" ry="1.4" fill="#0c0c0c"/>
<ellipse cx="584.30" cy="298.55" rx="1.6" ry="1.4" fill="#0c0c0c"/>
<ellipse cx="584.30" cy="304.80" rx="1.6" ry="1.4" fill="#0c0c0c"/>
<ellipse cx="584.30" cy="311.05" rx="1.6" ry="1.4" fill="#0c0c0c"/>
<ellipse cx="584.30" cy="317.30" rx="1.6" ry="1.4" fill="#0c0c0c"/>
<ellipse cx="584.30" cy="323.55" rx="1.6" ry="1.4" fill="#0c0c0c"/>
<ellipse cx="584.30" cy="329.80" rx="1.6" ry="1.4" fill="#0c0c0c"/>
<ellipse cx="584.30" cy="336.05" rx="1.6" ry="1.4" fill="#0c0c0c"/>
<ellipse cx="584.30" cy="342.30" rx="1.6" ry="1.4" fill="#0c0c0c"/>
<ellipse cx="584.30" cy="348.55" rx="1.6" ry="1.4" fill="#0c0c0c"/>
<ellipse cx="584.30" cy="354.80" rx="1.6" ry="1.4" fill="#0c0c0c"/>
<ellipse cx="584.30" cy="361.05" rx="1.6" ry="1.4" fill="#0c0c0c"/>
<ellipse cx="584.30" cy="367.30" rx="1.6" ry="1.4" fill="#0c0c0c"/>
<ellipse cx="584.30" cy="373.55" rx="1.6" ry="1.4" fill="#0c0c0c"/>
<ellipse cx="583.60" cy="387.40" rx="2.15" ry="1.85" fill="#ffffff"/>
<ellipse cx="583.60" cy="393.50" rx="2.15" ry="1.85" fill="#ffffff"/>
<ellipse cx="580.30" cy="393.90" rx="2.2" ry="1.6" fill="#0a0a0a"/>
<ellipse cx="583.60" cy="399.60" rx="2.15" ry="1.85" fill="#ffffff"/>
<ellipse cx="583.60" cy="405.70" rx="2.15" ry="1.85" fill="#ffffff"/>
<ellipse cx="583.60" cy="411.80" rx="2.15" ry="1.85" fill="#ffffff"/>
<ellipse cx="583.60" cy="417.90" rx="2.15" ry="1.85" fill="#ffffff"/>
</g>
</g>
<g clip-path="url(#cp4)">
<g filter="url(#soft)">
<rect x="611.80" y="225.70" width="62.90" height="193.60" fill="url(#wall)"/>
<path d="M612.8 277.5 h60.9" stroke="#949494" stroke-width="1.1"/>
<path d="M612.8 347.7 h60.9" stroke="#aeaeae" stroke-width="1"/>
<path d="M666.8 276.7 v187.6" stroke="#acacac" stroke-width="1"/>
<rect x="614.80" y="228.70" width="56.90" height="187.60" fill="#000" filter="url(#noise)" opacity="0.26"/>
<rect x="660.80" y="276.70" width="12.90" height="187.60" fill="#000" opacity="0.05"/>
<rect x="612.80" y="226.70" width="7.20" height="34.60" fill="#262626"/>
<circle cx="620.5" cy="262.8" r="1.8" fill="none" stroke="#d0d0d0" stroke-width="0.9"/>
<circle cx="668.0" cy="260.9" r="2.0" fill="#aaa" stroke="#e4e4e4" stroke-width="0.9"/>
<rect x="612.80" y="371.70" width="6.30" height="49.60" fill="#202020"/>
<rect x="619.10" y="389.20" width="7.20" height="32.10" fill="#2a2a2a"/>
<rect x="665.30" y="388.70" width="7.90" height="35.60" fill="#000" opacity="0.18"/>
<rect x="668.00" y="393.70" width="1.80" height="25.60" fill="#222"/>
<rect x="666.80" y="384.70" width="3.40" height="4.20" fill="#c8c8c8"/>
<rect x="629.40" y="297.70" width="32.40" height="86.00" fill="url(#m4)"/>
<rect x="654.60" y="297.70" width="7.20" height="86.00" fill="url(#rdark)"/>
<rect x="630.20" y="297.70" width="30.00" height="3.00" fill="#161616" rx="1"/>
<rect x="634.20" y="285.50" width="22.60" height="12.20" fill="#202020"/>
<rect x="643.30" y="285.50" width="9.10" height="12.20" fill="#4a4a4a"/>
<ellipse cx="645.50" cy="289.10" rx="2.2" ry="1.4" fill="#fff"/>
<ellipse cx="645.50" cy="295.20" rx="2.2" ry="1.3" fill="#fff"/>
<rect x="631.80" y="273.40" width="26.60" height="12.10" fill="url(#s4)"/>
<rect x="632.80" y="273.40" width="24.60" height="1.60" fill="#141414"/>
<rect x="624.20" y="223.70" width="40.60" height="49.70" fill="#202020" rx="4"/>
<rect x="637.90" y="250.00" width="20.50" height="20.20" fill="url(#c4)"/>
<rect x="612.80" y="226.70" width="60.90" height="18.50" fill="url(#wall)"/>
<rect x="612.80" y="226.70" width="7.20" height="19.50" fill="#262626"/>
<rect x="627.40" y="225.70" width="34.80" height="22.50" fill="#2c2c2c" rx="2.5"/>
<rect x="628.70" y="229.50" width="32.10" height="2.20" fill="#4c4c4c"/>
<rect x="642.20" y="234.30" width="15.60" height="2.00" fill="#8c8c8c"/>
<rect x="644.20" y="237.30" width="14.60" height="1.20" fill="#6a6a6a"/>
<rect x="627.40" y="239.50" width="34.80" height="5.00" fill="#1c1c1c"/>
<rect x="624.20" y="244.20" width="40.60" height="6.00" fill="#202020" rx="3"/>
<rect x="625.30" y="380.70" width="40.50" height="43.60" fill="url(#b4)" rx="2.2"/>
<rect x="627.30" y="380.70" width="36.50" height="1.80" fill="#1c1c1c"/>
<rect x="634.30" y="383.50" width="11.50" height="1.30" fill="#8a8a8a" opacity="0.7"/>
<rect x="643.30" y="383.70" width="10.00" height="35.60" fill="#fff" opacity="0.16"/>
<rect x="646.80" y="392.70" width="4.40" height="22.00" fill="#777" opacity="0.45"/>
<rect x="612.80" y="384.70" width="60.90" height="37.60" fill="url(#bdark)"/>
</g>
<g filter="url(#soft3)">
<ellipse cx="645.20" cy="303.30" rx="1.6" ry="1.4" fill="#0c0c0c"/>
<ellipse cx="645.20" cy="309.55" rx="1.6" ry="1.4" fill="#0c0c0c"/>
<ellipse cx="645.20" cy="315.80" rx="1.6" ry="1.4" fill="#0c0c0c"/>
<ellipse cx="645.20" cy="322.05" rx="1.6" ry="1.4" fill="#0c0c0c"/>
<ellipse cx="645.20" cy="328.30" rx="1.6" ry="1.4" fill="#0c0c0c"/>
<ellipse cx="645.20" cy="334.55" rx="1.6" ry="1.4" fill="#0c0c0c"/>
<ellipse cx="645.20" cy="340.80" rx="1.6" ry="1.4" fill="#0c0c0c"/>
<ellipse cx="645.20" cy="347.05" rx="1.6" ry="1.4" fill="#0c0c0c"/>
<ellipse cx="645.20" cy="353.30" rx="1.6" ry="1.4" fill="#0c0c0c"/>
<ellipse cx="645.20" cy="359.55" rx="1.6" ry="1.4" fill="#0c0c0c"/>
<ellipse cx="645.20" cy="365.80" rx="1.6" ry="1.4" fill="#0c0c0c"/>
<ellipse cx="645.20" cy="372.05" rx="1.6" ry="1.4" fill="#0c0c0c"/>
<ellipse cx="645.20" cy="378.30" rx="1.6" ry="1.4" fill="#0c0c0c"/>
<ellipse cx="644.80" cy="388.90" rx="2.15" ry="1.85" fill="#ffffff"/>
<ellipse cx="644.80" cy="395.00" rx="2.15" ry="1.85" fill="#ffffff"/>
<ellipse cx="641.50" cy="395.40" rx="2.2" ry="1.6" fill="#0a0a0a"/>
<ellipse cx="644.80" cy="401.10" rx="2.15" ry="1.85" fill="#ffffff"/>
<ellipse cx="644.80" cy="407.20" rx="2.15" ry="1.85" fill="#ffffff"/>
<ellipse cx="644.80" cy="413.30" rx="2.15" ry="1.85" fill="#ffffff"/>
</g>
</g>
<g stroke="#262626" stroke-width="1.6" fill="none" stroke-linecap="butt">
<path d="M65.7 7.3 V435.1 H675.9"/>
</g>
<g stroke="#262626" stroke-width="1.7" fill="none">
<path d="M65.7 399.53 h4.4"/>
<path d="M65.7 363.95 h9.1"/>
<path d="M65.7 328.38 h4.4"/>
<path d="M65.7 292.80 h9.1"/>
<path d="M65.7 257.23 h4.4"/>
<path d="M65.7 221.65 h9.1"/>
<path d="M65.7 186.07 h4.4"/>
<path d="M65.7 150.50 h9.1"/>
<path d="M65.7 114.93 h4.4"/>
<path d="M65.7 79.35 h9.1"/>
<path d="M65.7 43.77 h4.4"/>
<path d="M65.7 8.20 h9.1"/>
<path d="M116.47 435.1 v-4.6"/>
<path d="M167.25 435.1 v-9.0"/>
<path d="M218.02 435.1 v-4.6"/>
<path d="M268.80 435.1 v-9.0"/>
<path d="M319.57 435.1 v-4.6"/>
<path d="M370.35 435.1 v-9.0"/>
<path d="M421.12 435.1 v-4.6"/>
<path d="M471.90 435.1 v-9.0"/>
<path d="M522.67 435.1 v-4.6"/>
<path d="M573.45 435.1 v-9.0"/>
<path d="M624.23 435.1 v-4.6"/>
<path d="M675.00 435.1 v-9.0"/>
</g>
<g opacity="0.996">
<g font-size="18.67" text-anchor="end">
<text x="56.6" y="439.9">0</text>
<text x="56.6" y="368.8">20</text>
<text x="56.6" y="297.6">40</text>
<text x="56.6" y="226.5">60</text>
<text x="56.6" y="155.3">80</text>
<text x="56.6" y="84.2">100</text>
<text x="56.6" y="13.0">120</text>
</g>
<g font-size="18.67" text-anchor="middle">
<text x="65.9" y="458.5">0</text>
<text x="167.4" y="458.5">10</text>
<text x="269.0" y="458.5">20</text>
<text x="370.5" y="458.5">30</text>
<text x="472.1" y="458.5">40</text>
<text x="573.6" y="458.5">50</text>
<text x="675.2" y="458.5">60</text>
</g>
<text class="sans" font-size="23.3" x="370.1" y="495.2" text-anchor="middle">Time/ms</text>
<text class="sans" font-size="23.3" transform="translate(17.5 220.2) rotate(-90)" text-anchor="middle">Displacement/mm</text>
<path d="M83.5 21 H132" stroke="#000" stroke-width="2" fill="none"/>
<path d="M83.5 49.5 H132" stroke="#ff0000" stroke-width="2" fill="none"/>
<rect x="103" y="44.5" width="10" height="10" fill="#ff0000"/>
<text font-size="23.3" x="141.7" y="29.0">Numerical Simulation</text>
<text font-size="23.3" x="142.1" y="57.6">Impact Experiment</text>
<g font-size="17.6" text-anchor="middle">
<text x="396.6" y="221.5">0ms</text>
<text x="456.2" y="222.8">10ms</text>
<text x="518.2" y="222.8">25ms</text>
<text x="584.3" y="222.8">35ms</text>
<text x="642.7" y="224.3">55ms</text>
</g>
</g>
</svg>
</body></html>
